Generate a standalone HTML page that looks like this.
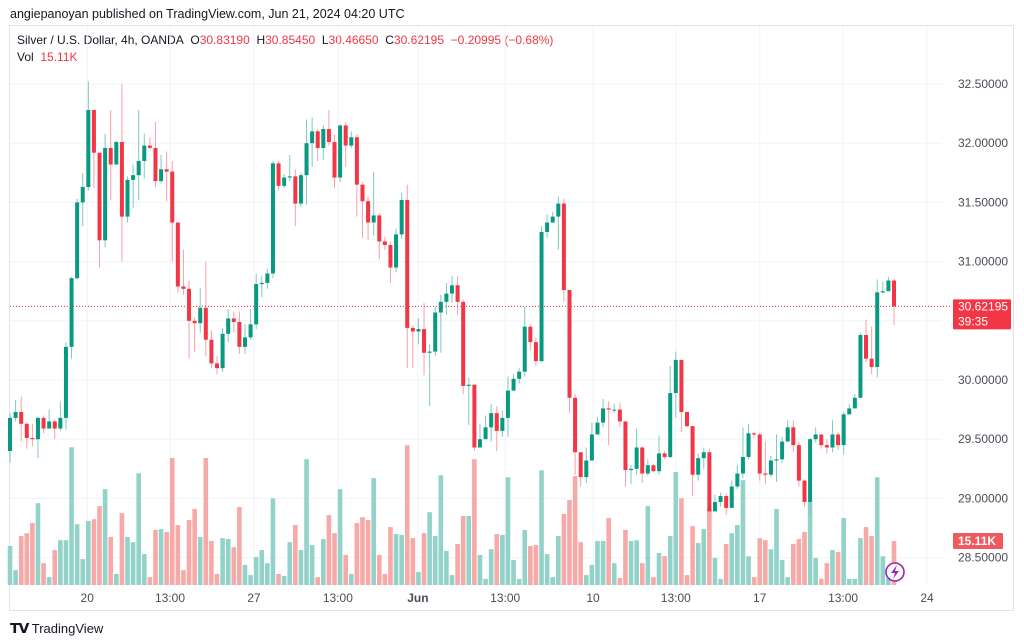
<!DOCTYPE html>
<html><head><meta charset="utf-8">
<style>
body{margin:0;background:#fff;width:1024px;height:643px;overflow:hidden;font-family:"Liberation Sans",sans-serif;}
#wrap{position:relative;width:1024px;height:643px;}
.t{position:absolute;white-space:nowrap;}
</style></head>
<body>
<div id="wrap">
<div class="t" style="left:10px;top:7px;font-size:12.5px;color:#131722;">angiepanoyan published on TradingView.com, Jun 21, 2024 04:20 UTC</div>
<div class="t" style="left:17px;top:33px;font-size:12px;color:#131722;">Silver / U.S. Dollar, 4h, OANDA&nbsp; O<span style="color:#f23645">30.83190</span>&nbsp; H<span style="color:#f23645">30.85450</span>&nbsp; L<span style="color:#f23645">30.46650</span>&nbsp; C<span style="color:#f23645">30.62195</span>&nbsp; <span style="color:#f23645">−0.20995 (−0.68%)</span></div>
<div class="t" style="left:17px;top:50px;font-size:12px;color:#131722;">Vol&nbsp; <span style="color:#f23645">15.11K</span></div>
<svg id="chart" width="1024" height="643" style="position:absolute;left:0;top:0;"></svg>
<div class="t" style="left:10px;top:620px;font-size:13px;color:#131722;"><b style="font-size:14px;letter-spacing:-1px;">𝗧𝗩</b> TradingView</div>
</div>
<script>
const closes=[29.68,29.73,29.63,29.51,29.50,29.68,29.59,29.65,29.59,29.68,30.28,30.86,31.50,31.63,32.28,31.92,31.18,31.96,31.82,32.01,31.38,31.69,31.73,31.85,31.98,31.96,31.68,31.78,31.76,31.33,30.79,30.77,30.50,30.48,30.61,30.34,30.14,30.10,30.39,30.52,30.49,30.28,30.36,30.47,30.81,30.82,30.90,31.83,31.64,31.71,31.72,31.49,31.73,32.00,32.10,31.96,32.12,32.01,31.71,32.15,31.98,32.05,31.65,31.51,31.33,31.39,31.17,31.14,30.95,31.23,31.52,30.44,30.41,30.43,30.23,30.24,30.57,30.66,30.73,30.80,30.66,29.95,29.96,29.43,29.50,29.60,29.72,29.57,29.68,29.91,30.01,30.07,30.45,30.32,30.16,31.25,31.33,31.38,31.49,30.76,29.85,29.39,29.18,29.32,29.54,29.64,29.76,29.75,29.75,29.65,29.24,29.25,29.43,29.21,29.28,29.23,29.38,29.35,29.89,30.17,29.73,29.61,29.20,29.34,29.39,28.89,28.97,29.02,28.92,29.10,29.21,29.35,29.55,29.54,29.21,29.20,29.32,29.33,29.48,29.60,29.45,29.15,28.97,29.50,29.54,29.45,29.43,29.54,29.45,29.71,29.76,29.85,30.38,30.18,30.11,30.74,30.75,30.84,30.62195];
const firstOpen=29.40;
const highs=[29.72,29.83,29.86,29.64,29.63,29.69,29.70,29.75,29.66,29.82,30.32,30.87,31.53,31.75,32.52,32.28,31.80,32.08,32.28,32.02,32.50,31.72,31.82,32.28,32.08,32.05,32.18,31.90,31.93,31.85,31.32,31.10,30.84,30.53,30.78,31.00,30.42,30.20,30.44,30.60,30.58,30.58,30.47,30.60,30.90,30.88,30.94,31.85,31.85,31.74,31.90,31.78,31.75,32.20,32.22,32.12,32.15,32.28,32.07,32.16,32.18,32.10,32.07,31.67,31.55,31.76,31.41,31.21,31.17,31.28,31.58,31.65,30.46,30.52,30.65,30.30,30.62,30.72,30.82,30.88,30.88,30.68,30.02,29.97,29.63,29.70,29.80,29.78,29.74,30.03,30.05,30.10,30.62,30.47,30.36,31.30,31.40,31.42,31.55,31.53,30.76,29.88,29.37,29.43,29.64,29.69,29.84,29.82,29.80,29.81,29.65,29.28,29.59,29.44,29.33,29.29,29.53,29.40,30.12,30.24,30.17,29.73,29.61,29.38,29.43,29.42,29.03,29.05,29.04,29.15,29.28,29.60,29.63,29.56,29.55,29.48,29.36,29.54,29.52,29.66,29.66,29.48,29.16,29.51,29.60,29.54,29.50,29.66,29.56,29.73,29.80,29.88,30.40,30.51,30.45,30.85,30.83,30.87,30.8545];
const lows=[29.30,29.65,29.48,29.42,29.44,29.34,29.55,29.63,29.50,29.57,29.58,30.18,30.85,31.30,31.60,31.62,30.95,31.12,31.52,31.82,31.00,31.33,31.45,31.52,31.70,31.95,31.63,31.66,31.51,31.00,30.74,30.72,30.18,30.24,30.40,30.20,30.10,30.05,30.07,30.32,30.40,30.22,30.22,30.34,30.43,30.70,30.77,30.86,31.60,31.62,31.68,31.30,31.46,31.48,31.80,31.85,31.86,31.98,31.62,31.67,31.80,31.96,31.38,31.20,31.18,31.22,31.02,31.10,30.82,30.91,31.19,30.10,30.10,30.30,30.04,29.78,30.20,30.23,30.55,30.65,30.55,29.88,29.62,29.40,29.45,29.52,29.48,29.40,29.52,29.52,29.92,29.97,30.03,30.25,30.12,30.15,31.20,31.33,31.10,30.66,29.72,29.20,29.10,29.13,29.45,29.56,29.60,29.45,29.72,29.60,29.10,29.12,29.20,29.13,29.19,29.22,29.20,29.33,29.34,29.68,29.56,29.60,29.02,29.15,29.25,28.87,28.90,28.93,28.86,28.92,29.08,29.17,29.33,29.51,29.15,29.12,29.18,29.14,29.30,29.48,29.39,29.10,28.93,28.85,29.47,29.42,29.38,29.39,29.41,29.37,29.71,29.83,29.85,30.15,30.05,30.02,30.73,30.76,30.4665];
const volumes=[13.4,5.1,16.8,17.8,21.3,28.1,7.5,2.7,12.0,15.4,15.4,47.3,20.9,8.9,22.0,22.6,27.1,32.9,16.5,3.8,24.7,16.5,14.7,38.4,10.6,2.7,18.9,19.2,18.2,43.6,20.6,5.1,22.3,26.1,16.5,43.6,15.1,3.8,16.1,15.8,13.0,26.8,6.9,3.4,9.6,12.0,7.5,29.8,3.8,3.1,14.7,20.6,12.0,43.2,13.7,2.7,15.8,24.0,17.8,32.9,10.3,3.8,21.3,23.3,22.3,36.7,10.3,3.8,19.9,17.5,17.2,48.0,16.1,4.5,17.8,25.0,16.8,37.7,11.7,3.4,14.1,23.7,23.7,43.2,10.3,2.1,12.3,17.5,17.2,37.0,8.6,2.1,18.9,13.4,13.7,39.4,10.6,2.7,16.8,24.4,29.2,37.4,14.7,3.4,6.9,15.1,15.1,23.0,7.5,2.4,18.9,15.1,15.4,7.5,27.1,2.7,11.0,9.9,16.8,38.8,29.8,3.4,20.2,14.4,19.2,26.4,9.3,2.1,14.1,17.8,20.6,36.0,9.9,2.7,16.1,15.4,12.3,26.1,8.6,2.7,14.1,15.8,18.2,28.8,9.3,2.1,7.5,12.0,11.3,23.0,2.1,2.1,16.1,19.9,16.8,37.0,9.9,2.4,15.11];
const priceTicks=[32.5,32.0,31.5,31.0,30.5,30.0,29.5,29.0,28.5];
const timeLabels=["20","13:00","27","13:00","Jun","13:00","10","13:00","17","13:00","24"];
const timeLabelIdx=[13.8,28.6,43.6,58.6,72.9,88.5,104.2,119.0,134.0,148.9,163.9];
const lastPrice=30.62195;
const lastVol=15.11;

const NS="http://www.w3.org/2000/svg";
const svg=document.getElementById('chart');
const X0=10, DX=5.595, PLEFT=10, PRIGHT=942, PTOP=26, PBOT=585;
function xScale(i){return X0+i*DX;}
function yScale(p){return 380-(p-30)*118.4;}
function vScale(v){return v*44/15.11;}
function mk(tag,attrs){const e=document.createElementNS(NS,tag);for(const k in attrs)e.setAttribute(k,attrs[k]);svg.appendChild(e);return e;}

// frame
let fr=mk('rect',{x:9.5,y:25.5,width:1004,height:585,fill:'none',stroke:'#e0e3eb'});


// grid
priceTicks.forEach(p=>{
 const g=mk('line',{x1:PLEFT,x2:PRIGHT,y1:yScale(p),y2:yScale(p),stroke:'#f0f3fa'});
 
 
 const t=mk('text',{x:958,y:yScale(p)+4,'font-size':12,fill:'#4a4d57','font-family':'Liberation Sans, sans-serif'});
 t.textContent=p.toFixed(5);
 
 
});
timeLabels.forEach((s,k)=>{
 const x=xScale(timeLabelIdx[k]);
 const g=mk('line',{x1:x,x2:x,y1:PTOP,y2:PBOT,stroke:'#f0f3fa'});
 
 
 const t=mk('text',{x:x,y:602,'font-size':12,fill:'#4a4d57','text-anchor':'middle','font-family':'Liberation Sans, sans-serif','font-weight':s==='Jun'?'bold':'normal'});
 t.textContent=s;
 
 
});
// volume
closes.forEach((c,i)=>{
 const o=i===0?firstOpen:closes[i-1];
 const up=c>=o;
 const h=vScale(volumes[i]);
 const r=mk('rect',{x:xScale(i)-2.3,y:PBOT-h,width:4.6,height:h,fill:up?'#92d2c9':'#f7a9a7'});
 
 
});
// candles
closes.forEach((c,i)=>{
 const o=i===0?firstOpen:closes[i-1];
 const up=c>=o;
 const col=up?'#089981':'#f23645';
 const wcol=up?'#7fc9bd':'#f7a0a6';
 const x=xScale(i);
 const w=mk('line',{x1:x,x2:x,y1:yScale(highs[i]),y2:yScale(lows[i]),stroke:wcol,'stroke-width':1});
 
 
 const y1=yScale(Math.max(o,c)),y2=yScale(Math.min(o,c));
 const b=mk('rect',{x:x-2,y:y1,width:4,height:Math.max(1,y2-y1),fill:col});
 
 
});
// last price line & labels
const ly=yScale(lastPrice);
let pl=mk('line',{x1:PLEFT,x2:PRIGHT+10,y1:ly,y2:ly,stroke:'#f23645','stroke-width':1,'stroke-dasharray':'1,2'});


let pb=mk('rect',{x:953,y:ly-7,width:58,height:30,fill:'#f23645',rx:1});


let pt=mk('text',{x:958,y:ly+4,'font-size':12,fill:'#fff','font-family':'Liberation Sans, sans-serif'});
pt.textContent=lastPrice.toFixed(5);


let ct=mk('text',{x:958,y:ly+19,'font-size':12,fill:'#fff','font-family':'Liberation Sans, sans-serif'});
ct.textContent='39:35';


const vy=PBOT-vScale(lastVol);
let vb=mk('rect',{x:953,y:vy-8,width:50,height:16,fill:'#f05a5f',rx:1});


let vt=mk('text',{x:958,y:vy+4,'font-size':12,fill:'#fff','font-family':'Liberation Sans, sans-serif','font-weight':'bold'});
vt.textContent=lastVol.toFixed(2)+'K';


// lightning icon
let ic=mk('circle',{cx:895,cy:572,r:9,fill:'#fff',stroke:'#9c27b0','stroke-width':1.6});


let ip=mk('path',{d:'M897 565 L891 573 L895 573 L893 579 L899 571 L895 571 Z',fill:'#9c27b0'});


</script>
</body></html>
